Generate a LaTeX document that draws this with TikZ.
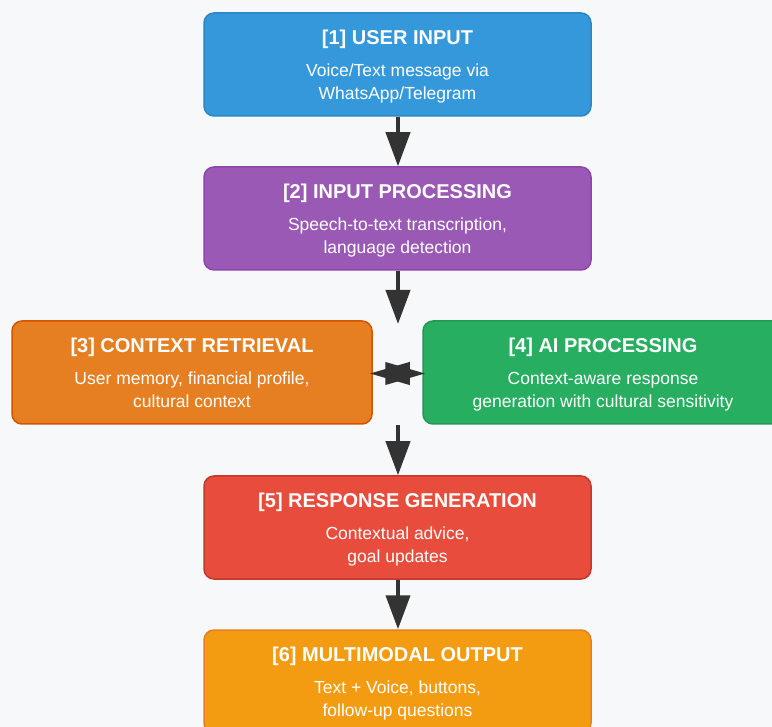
\documentclass[tikz,border=0pt]{standalone}
\usepackage{fontspec}
\setmainfont{Liberation Sans}
\usetikzlibrary{arrows.meta,calc}
\definecolor{bgc}{HTML}{F6F8FA}
\definecolor{arrc}{HTML}{333333}
\definecolor{fillA}{HTML}{3498DB}\definecolor{drawA}{HTML}{2E86C1}
\definecolor{fillB}{HTML}{9B59B6}\definecolor{drawB}{HTML}{8E44AD}
\definecolor{fillC}{HTML}{E67E22}\definecolor{drawC}{HTML}{D35400}
\definecolor{fillD}{HTML}{27AE60}\definecolor{drawD}{HTML}{229954}
\definecolor{fillE}{HTML}{E74C3C}\definecolor{drawE}{HTML}{C0392B}
\definecolor{fillF}{HTML}{F39C12}\definecolor{drawF}{HTML}{E67E22}
\tikzset{
  flowbox/.style={rectangle, rounded corners=10pt, line width=1.5pt, inner sep=0pt},
  ttl/.style={anchor=base, text=white, font=\fontsize{20}{24}\selectfont\bfseries, inner sep=0pt},
  sub/.style={anchor=base, text=white, font=\fontsize{17.5}{21}\selectfont, inner sep=0pt},
  flowarrow/.style={draw=arrc, line width=4pt, -{Triangle[length=34pt,width=24pt]}},
  dblarrow/.style={draw=arrc, line width=4pt, {Triangle[length=40pt,width=22pt]}-{Triangle[length=40pt,width=22pt]}}
}
% #1 name, #2 x1, #3 y1, #4 x2, #5 y2, #6 colour key, #7 title, #8 sub1, #9 sub2
\newcommand\flowstep[9]{%
  \node[flowbox, fill=fill#6, draw=draw#6, minimum width={(#4-#2)*1pt}, minimum height={(#5-#3)*1pt}]
    (#1) at ({(#2+#4)/2},{(#3+#5)/2}) {};
  \node[ttl] (#1t) at ($(#1.north)+(0,32)$) {#7};
  \node[sub] (#1s) at ($(#1.north)+(0,64.5)$) {#8};
  \node[sub] (#1u) at ($(#1.north)+(0,87)$) {#9};
}
\begin{document}
\begin{tikzpicture}[x=1pt,y=-1pt]
\useasboundingbox (0,0) rectangle (772,727);
\clip (0,0) rectangle (772,727);
\fill[bgc] (0,0) rectangle (772,727);
\flowstep{b1}{204}{13}{591}{116}{A}{[1] USER INPUT}{Voice/Text message via}{WhatsApp/Telegram}
\flowstep{b2}{204}{167}{591}{270}{B}{[2] INPUT PROCESSING}{Speech-to-text transcription,}{language detection}
\flowstep{b3}{12}{321}{372}{424}{C}{[3] CONTEXT RETRIEVAL}{User memory, financial profile,}{cultural context}
\flowstep{b4}{423}{321}{783}{424}{D}{[4] AI PROCESSING}{Context-aware response}{generation with cultural sensitivity}
\flowstep{b5}{204}{476}{591}{579}{E}{[5] RESPONSE GENERATION}{Contextual advice,}{goal updates}
\flowstep{b6}{204}{630}{591}{733}{F}{[6] MULTIMODAL OUTPUT}{Text + Voice, buttons,}{follow-up questions}
\coordinate (midin) at (398,324);
\coordinate (midout) at (398,425);
\draw[flowarrow] (b1.south -| 398,0) -- (b2.north -| 398,0);
\draw[flowarrow] (b2.south -| 398,0) -- (midin);
\draw[dblarrow, shorten <=-3pt, shorten >=-3pt] ($(b3.east)+(0,1)$) -- ($(b4.west)+(0,1)$);
\draw[flowarrow] (midout) -- (b5.north -| 398,0);
\draw[flowarrow] (b5.south -| 398,0) -- (b6.north -| 398,0);
\end{tikzpicture}
\end{document}
